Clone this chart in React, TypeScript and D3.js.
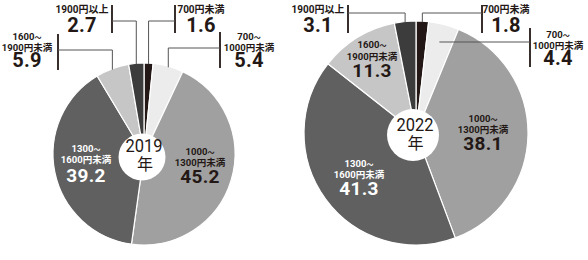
import React from "react";
import * as d3 from "d3";

// ---- data ----
const categories = ["700円未満", "700〜1000円未満", "1000〜1300円未満", "1300〜1600円未満", "1600〜1900円未満", "1900円以上"];
const labelHeads = ["", "700", "1000", "1300", "1600", ""];
const labelTails = ["700円未満", "1000円未満", "1300円未満", "1600円未満", "1900円未満", "1900円以上"];
const years = ["2019", "2022"];
const values2019 = [1.6, 5.4, 45.2, 39.2, 5.9, 2.7];
const values2022 = [1.8, 4.4, 38.1, 41.3, 11.3, 3.1];
const yearSuffix = "年";

// ---- styling ----
const sliceColors = ["#231815", "#ececec", "#a0a0a0", "#606060", "#c6c6c6", "#3c3c3c"];
const ink = "#231815";
const FONT = "Roboto, 'Noto Sans CJK JP', sans-serif";

type Lbl = {
  kind: "in" | "out";
  x: number;
  lines: number[];
  vy: number;
  fill?: string;
  bar?: [number, number, number];
  cy?: number;
  mode?: "drop" | "inside";
};

type PieLayout = {
  cx: number; cy: number; r: number;
  hole: [number, number, number];
  yearPos: [number, number, number, number];
  labels: Lbl[];
};

const layouts: PieLayout[] = [
  {
    cx: 144, cy: 154, r: 91,
    hole: [142, 157, 23.5],
    yearPos: [144, 152, 145, 170],
    labels: [
      { kind: "out", x: 201, lines: [13], vy: 32, bar: [175, 5, 33], cy: 21, mode: "drop" },
      { kind: "out", x: 249, lines: [39.5, 50.5], vy: 67, bar: [220, 32, 68], cy: 48, mode: "drop" },
      { kind: "in", x: 200, lines: [154.5, 165.5], vy: 183, fill: ink },
      { kind: "in", x: 86, lines: [151.5, 162.5], vy: 182, fill: "#ffffff" },
      { kind: "out", x: 27, lines: [39.5, 50.5], vy: 67, bar: [58, 34, 70], cy: 50, mode: "drop" },
      { kind: "out", x: 82, lines: [13], vy: 32, bar: [112, 5, 33], cy: 21, mode: "drop" },
    ],
  },
  {
    cx: 416, cy: 133, r: 112,
    hole: [413, 135, 26],
    yearPos: [415, 131, 415.5, 149],
    labels: [
      { kind: "out", x: 506, lines: [13], vy: 32, bar: [482, 5, 33], cy: 13, mode: "drop" },
      { kind: "out", x: 558, lines: [37.5, 48.5], vy: 65, bar: [530, 28, 67], cy: 42, mode: "inside" },
      { kind: "in", x: 483, lines: [121.5, 132.5], vy: 150, fill: ink },
      { kind: "in", x: 359, lines: [166.5, 177.5], vy: 195, fill: "#ffffff" },
      { kind: "in", x: 372, lines: [47.5, 59.5], vy: 77, fill: ink },
      { kind: "out", x: 318, lines: [13], vy: 32, bar: [348, 5, 33], cy: 13, mode: "drop" },
    ],
  },
];

const allValues = [values2019, values2022];

function Pie({ values, layout, year }: { values: number[]; layout: PieLayout; year: string }) {
  const { cx, cy, r } = layout;
  const arcs = d3.pie<number>().sort(null).value((d) => d).startAngle(0).endAngle(2 * Math.PI)(values);
  const arcGen = d3.arc<d3.PieArcDatum<number>>().innerRadius(0).outerRadius(r);
  return (
    <g>
      <g transform={`translate(${cx},${cy})`}>
        {arcs.map((a, i) => (
          <path key={categories[i]} d={arcGen(a) || ""} fill={sliceColors[i]} stroke="#ffffff" strokeWidth={1.2} strokeLinejoin="round" />
        ))}
      </g>
      {arcs.map((a, i) => {
        const L = layout.labels[i];
        if (L.kind !== "out" || !L.bar) return null;
        const mid = (a.startAngle + a.endAngle) / 2;
        const [bx, by1, by2] = L.bar;
        const ly = L.cy as number;
        let px: number;
        const segs: JSX.Element[] = [];
        if (L.mode === "drop") {
          px = cx + r * Math.sin(mid);
          const ey = cy - Math.sqrt(r * r - (px - cx) * (px - cx));
          segs.push(<line key="v" x1={px} y1={ly} x2={px} y2={ey + 1} stroke="#555" strokeWidth={1} />);
        } else {
          px = cx + (cy - ly) * Math.tan(mid);
        }
        return (
          <g key={"ld" + i}>
            <line x1={bx} y1={by1} x2={bx} y2={by2} stroke={ink} strokeWidth={1.8} />
            <line x1={bx} y1={ly} x2={px} y2={ly} stroke="#555" strokeWidth={1} />
            {segs}
          </g>
        );
      })}
      <circle cx={layout.hole[0]} cy={layout.hole[1]} r={layout.hole[2]} fill="#ffffff" />
      <text x={layout.yearPos[0]} y={layout.yearPos[1]} textAnchor="middle" fontFamily={FONT} fontSize={18} fill={ink} textLength={37} lengthAdjust="spacingAndGlyphs">{year}</text>
      <text x={layout.yearPos[2]} y={layout.yearPos[3]} textAnchor="middle" fontFamily="'Noto Sans CJK JP', sans-serif" fontSize={16} fill={ink}>{yearSuffix}</text>
      {values.map((v, i) => {
        const L = layout.labels[i];
        const fill = L.fill || ink;
        const inside = L.kind === "in";
        const rows: JSX.Element[] = [];
        if (labelHeads[i]) {
          rows.push(
            <text key="h" x={L.x} y={L.lines[0]} textAnchor="middle" fontFamily={FONT} fontWeight={700} fontSize={9.5} fill={fill}>
              {labelHeads[i]}
              <tspan fontSize={7}>〜</tspan>
            </text>
          );
          rows.push(
            <text key="t" x={L.x} y={L.lines[1]} textAnchor="middle" fontFamily={FONT} fontWeight={700} fontSize={9.5} fill={fill}>
              {labelTails[i]}
            </text>
          );
        } else {
          rows.push(
            <text key="t" x={L.x} y={L.lines[0]} textAnchor="middle" fontFamily={FONT} fontWeight={700} fontSize={10} fill={fill}>
              {labelTails[i]}
            </text>
          );
        }
        return (
          <g key={"lb" + i}>
            {rows}
            <text x={L.x} y={L.vy} textAnchor="middle" fontFamily={FONT} fontWeight={700} fontSize={inside ? 19 : 20} fill={fill} letterSpacing={0.3}>
              {v.toFixed(1)}
            </text>
          </g>
        );
      })}
    </g>
  );
}

export default function App() {
  return (
    <svg width={588} height={260} style={{ position: "absolute", left: 0, top: 0, background: "#ffffff" }}>
      {years.map((y, k) => (
        <Pie key={y} values={allValues[k]} layout={layouts[k]} year={y} />
      ))}
    </svg>
  );
}
